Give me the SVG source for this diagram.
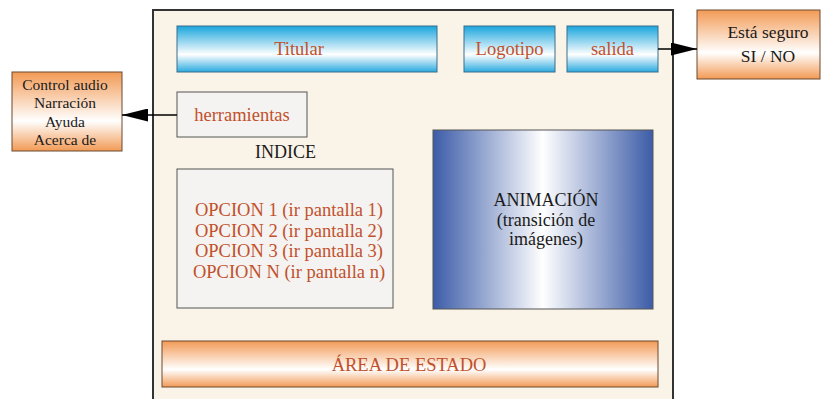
<svg xmlns="http://www.w3.org/2000/svg" width="822" height="399" viewBox="0 0 822 399">
<defs>
<linearGradient id="gBlue" x1="0" y1="0" x2="0" y2="1">
<stop offset="0" stop-color="#1AA5DD"/>
<stop offset="0.62" stop-color="#FFFFFF"/>
<stop offset="1" stop-color="#2AAAE0"/>
</linearGradient>
<linearGradient id="gOrange" x1="0" y1="0" x2="0" y2="1">
<stop offset="0" stop-color="#F29A55"/>
<stop offset="0.62" stop-color="#FFFFFF"/>
<stop offset="1" stop-color="#F29A55"/>
</linearGradient>
<linearGradient id="gAnim" x1="0" y1="0" x2="1" y2="0">
<stop offset="0" stop-color="#3C5CA8"/>
<stop offset="0.5" stop-color="#FFFFFF"/>
<stop offset="1" stop-color="#3C5CA8"/>
</linearGradient>
<marker id="arr" viewBox="0 0 10 10" refX="10" refY="5" markerWidth="26" markerHeight="13" markerUnits="userSpaceOnUse" orient="auto" preserveAspectRatio="none">
<path d="M0,0 L10,5 L0,10 z" fill="#000"/>
</marker>
<style>
.t{font-family:"Liberation Serif","Times New Roman",serif;font-size:18.5px;fill:#C2502B;text-anchor:middle}
.k{font-family:"Liberation Serif","Times New Roman",serif;fill:#1a1a1a;text-anchor:middle}
.blue{fill:url(#gBlue);stroke:#3A6E8C;stroke-width:1}
.org{fill:url(#gOrange);stroke:#6B4A30;stroke-width:1}
.grey{fill:#F4F3F1;stroke:#555;stroke-width:1}
</style>
</defs>
<g id="frame"><rect x="153" y="10" width="520" height="400" fill="#FAF3E7" stroke="#333" stroke-width="2"/></g>
<g id="titular"><rect class="blue" x="177" y="26" width="260" height="46"/><text class="t" x="299" y="55">Titular</text></g>
<g id="logotipo"><rect class="blue" x="464" y="26" width="91" height="46"/><text class="t" x="509.5" y="55">Logotipo</text></g>
<g id="salida"><rect class="blue" x="567" y="26" width="91" height="46"/><text class="t" x="612.5" y="55">salida</text></g>
<g id="seguro"><rect class="org" x="697" y="10" width="123" height="69"/><text class="k" font-size="17.5" x="768" y="38">Está seguro</text><text class="k" font-size="17.5" x="768" y="62">SI / NO</text></g>
<g id="herramientas"><rect class="grey" x="177" y="92" width="130" height="45"/><text class="t" x="242" y="121">herramientas</text></g>
<g id="control"><rect class="org" x="12" y="72" width="110" height="79"/>
<text class="k" font-size="15.5" x="65" y="90">Control audio</text>
<text class="k" font-size="15.5" x="65" y="108">Narración</text>
<text class="k" font-size="15.5" x="65" y="127">Ayuda</text>
<text class="k" font-size="15.5" x="65" y="145">Acerca de</text></g>
<g id="indice"><text class="k" font-size="18" x="285.5" y="158">INDICE</text></g>
<g id="opciones"><rect class="grey" x="177" y="169" width="216" height="139"/>
<text class="t" x="289" y="216">OPCION 1 (ir pantalla 1)</text>
<text class="t" x="289" y="237">OPCION 2 (ir pantalla 2)</text>
<text class="t" x="289" y="257">OPCION 3 (ir pantalla 3)</text>
<text class="t" x="289" y="278">OPCION N (ir pantalla n)</text></g>
<g id="animacion"><rect x="433" y="130" width="220" height="179" fill="url(#gAnim)" stroke="#555" stroke-width="1"/>
<text class="k" font-size="18" x="546" y="206">ANIMACIÓN</text>
<text class="k" font-size="18" x="546" y="226">(transición de</text>
<text class="k" font-size="18" x="546" y="245">imágenes)</text></g>
<g id="estado"><rect class="org" x="162" y="341" width="496" height="46"/><text class="t" font-size="20" x="409" y="371">ÁREA DE ESTADO</text></g>
<g id="connectors" stroke="#000" stroke-width="1.5" fill="none">
<line x1="658" y1="49" x2="697" y2="49" marker-end="url(#arr)"/>
<line x1="177" y1="115" x2="122" y2="115" marker-end="url(#arr)"/>
</g>
</svg>
